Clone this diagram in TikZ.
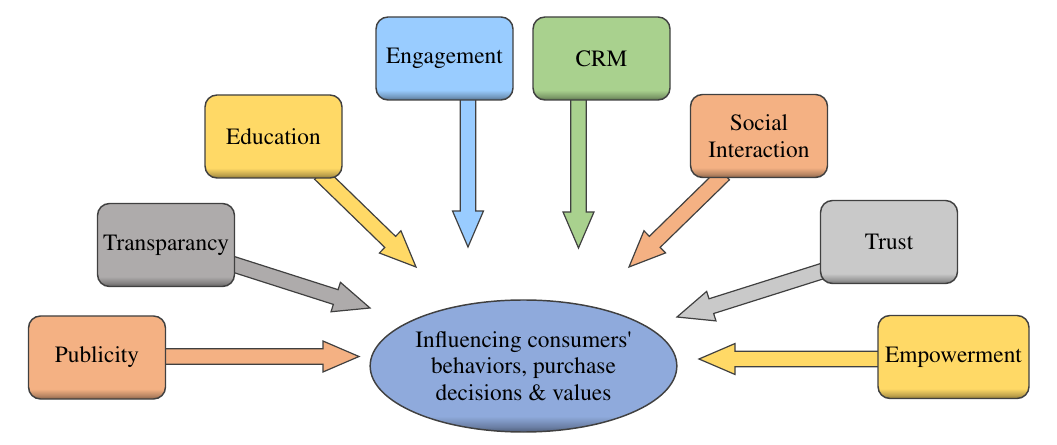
\documentclass[tikz,border=0pt]{standalone}
\usepackage[T1]{fontenc}
\usepackage{mathptmx}
\usetikzlibrary{calc, shapes.geometric}

\definecolor{linec}{HTML}{404040}
\definecolor{engc}{HTML}{99CCFF}
\definecolor{crmc}{HTML}{A9D18E}
\definecolor{educ}{HTML}{FFD966}
\definecolor{socc}{HTML}{F4B183}
\definecolor{trac}{HTML}{AEABAB}
\definecolor{truc}{HTML}{C9C9C9}
\definecolor{ellc}{HTML}{8FAADC}

\colorlet{boxc}{white}
\pgfdeclareverticalshading[boxc]{boxshade}{100bp}{color(0bp)=(boxc!55!black); color(25bp)=(boxc!55!black); color(27bp)=(boxc!75!black); color(31bp)=(boxc); color(100bp)=(boxc)}

\pgfdeclarelayer{back}
\pgfsetlayers{back,main}

\newcommand{\barshaft}{5.8pt}
\newcommand{\barwide}{11.6pt}
\newcommand{\barhead}{27pt}
\newcommand{\blockarrow}[3]{% colour, start, tip
  \coordinate (h) at ($(#3)!\barhead!(#2)$);
  \draw[barrow, fill=#1] ($(#2)!\barshaft!90:(#3)$) -- ($(h)!\barshaft!90:(#3)$) -- ($(h)!\barwide!90:(#3)$) -- (#3)
    -- ($(h)!\barwide!-90:(#3)$) -- ($(h)!\barshaft!-90:(#3)$) -- ($(#2)!\barshaft!-90:(#3)$) -- cycle;
}

\tikzset{
  txt/.style={font=\fontsize{17.5}{20}\selectfont},
  box/.style={txt, draw=linec, line width=1.1pt, rounded corners=9pt, minimum width=102.75pt, minimum height=62.25pt,
    align=center, inner sep=2pt, /utils/exec={\colorlet{boxc}{#1}}, shading=boxshade},
  barrow/.style={draw=linec, line width=0.9pt, line join=miter}
}

\begin{document}
\begin{tikzpicture}[x=0.75pt, y=-0.75pt]
        \useasboundingbox (0,0) rectangle (1057,445);
        %riquadri
        \node[box=engc] (eng) at (444.5,58.5) {Engagement};
        \node[box=crmc] (crm) at (601.5,58.5) {CRM};
        \node[box=educ] (edu) at (273.5,136.5) {Education};
        \node[box=socc] (soc) at (759,136) {Social\\Interaction};
        \node[box=trac] (tra) at (166,245) {Transparancy};
        \node[box=truc] (tru) at (889,242) {Trust};
        \node[box=socc] (pub) at (97,357.5) {Publicity};
        \node[box=educ, minimum width=113.25pt] (emp) at (953.5,357) {Empowerment};
        %ellisse centrale
        \node[ellipse, txt, draw=linec, line width=1.1pt, minimum width=230pt, minimum height=99pt, inner sep=0pt,
          align=center, /utils/exec={\colorlet{boxc}{ellc}}, shading=boxshade] (infl) at (523.5,366)
          {Influencing consumers\textquotesingle\\behaviors, purchase\\decisions \& values};
        %punte delle frecce
        \coordinate (engS) at ($(eng.south)+(23.5,-5)$);  \coordinate (engT) at (468,247);
        \coordinate (crmS) at ($(crm.south)+(-23,-5)$);   \coordinate (crmT) at (578.5,248);
        \coordinate (eduS) at ($(edu.south)+(46.5,-5)$);  \coordinate (eduT) at (416,267);
        \coordinate (socS) at ($(soc.south)+(-35,-4)$);   \coordinate (socT) at (629,267);
        \coordinate (traS) at ($(tra.east)+(-6,18)$);     \coordinate (traT) at (370,308);
        \coordinate (truS) at ($(tru.west)+(6,28)$);      \coordinate (truT) at (677,317);
        \coordinate (pubS) at ($(pub.east)+(-6,-1)$);     \coordinate (pubT) at (359,356.5);
        \coordinate (empS) at ($(emp.west)+(6,2)$);       \coordinate (empT) at (699,359);
        %frecce
        \begin{pgfonlayer}{back}
        \blockarrow{engc}{engS}{engT}
        \blockarrow{crmc}{crmS}{crmT}
        \blockarrow{educ}{eduS}{eduT}
        \blockarrow{socc}{socS}{socT}
        \blockarrow{trac}{traS}{traT}
        \blockarrow{truc}{truS}{truT}
        \blockarrow{socc}{pubS}{pubT}
        \blockarrow{educ}{empS}{empT}
        \end{pgfonlayer}
\end{tikzpicture}
\end{document}
